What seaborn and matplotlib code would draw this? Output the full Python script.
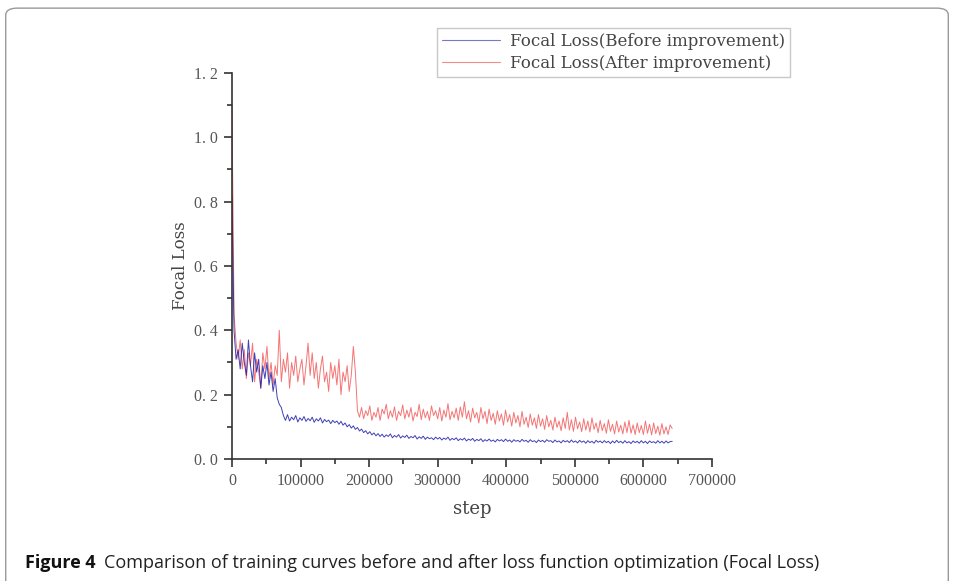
import numpy as np
import pandas as pd
import matplotlib
matplotlib.use("Agg")
import matplotlib.pyplot as plt
from matplotlib.patches import FancyBboxPatch
from matplotlib.lines import Line2D
from matplotlib.ticker import MultipleLocator, FuncFormatter
import seaborn as sns

# Training log: one loss value every LOG_INTERVAL steps
LOG_INTERVAL = 3000

loss_before = [
    0.82, 0.40, 0.31, 0.34, 0.28, 0.36, 0.30, 0.26, 0.37, 0.29,
    0.24, 0.33, 0.27, 0.31, 0.22, 0.29, 0.25, 0.30, 0.23, 0.27,
    0.21, 0.25, 0.19, 0.17, 0.16, 0.135, 0.12, 0.138, 0.118, 0.13,
    0.122, 0.135, 0.115, 0.128, 0.12, 0.132, 0.117, 0.126, 0.119, 0.13,
    0.114, 0.125, 0.118, 0.128, 0.112, 0.123, 0.116, 0.121, 0.11, 0.12,
    0.113, 0.118, 0.108, 0.117, 0.105, 0.112, 0.10, 0.107, 0.096, 0.103,
    0.092, 0.098, 0.087, 0.093, 0.082, 0.088, 0.078, 0.085, 0.075, 0.081,
    0.072, 0.079, 0.07, 0.077, 0.068, 0.075, 0.07, 0.078, 0.066, 0.073,
    0.068, 0.076, 0.065, 0.072, 0.067, 0.074, 0.064, 0.07, 0.066, 0.073,
    0.062, 0.069, 0.064, 0.071, 0.061, 0.068, 0.063, 0.066, 0.06, 0.068,
    0.062, 0.067, 0.059, 0.065, 0.061, 0.068, 0.058, 0.064, 0.06, 0.066,
    0.057, 0.063, 0.059, 0.065, 0.056, 0.062, 0.058, 0.064, 0.055, 0.061,
    0.057, 0.063, 0.054, 0.06, 0.056, 0.062, 0.055, 0.059, 0.053, 0.061,
    0.056, 0.06, 0.054, 0.062, 0.055, 0.059, 0.052, 0.06, 0.055, 0.058,
    0.053, 0.061, 0.055, 0.058, 0.052, 0.06, 0.054, 0.057, 0.051, 0.059,
    0.054, 0.058, 0.052, 0.06, 0.055, 0.057, 0.051, 0.059, 0.053, 0.056,
    0.05, 0.058, 0.053, 0.057, 0.051, 0.059, 0.052, 0.056, 0.05, 0.058,
    0.052, 0.056, 0.049, 0.057, 0.051, 0.055, 0.049, 0.058, 0.052, 0.056,
    0.05, 0.057, 0.051, 0.055, 0.048, 0.056, 0.05, 0.058, 0.051, 0.055,
    0.049, 0.057, 0.05, 0.054, 0.048, 0.056, 0.051, 0.055, 0.049, 0.057,
    0.05, 0.055, 0.048, 0.056, 0.051, 0.054, 0.049, 0.057, 0.05, 0.055,
    0.049, 0.056, 0.05, 0.054, 0.055,
]

loss_after = [
    1.10, 0.45, 0.36, 0.31, 0.37, 0.28, 0.34, 0.25, 0.33, 0.29,
    0.36, 0.24, 0.31, 0.27, 0.22, 0.33, 0.28, 0.35, 0.25, 0.30,
    0.23, 0.29, 0.26, 0.40, 0.24, 0.31, 0.27, 0.33, 0.22, 0.30,
    0.26, 0.32, 0.24, 0.28, 0.31, 0.23, 0.29, 0.36, 0.26, 0.33,
    0.25, 0.30, 0.22, 0.28, 0.32, 0.24, 0.27, 0.21, 0.30, 0.25,
    0.29, 0.23, 0.31, 0.20, 0.27, 0.24, 0.29, 0.21, 0.26, 0.35,
    0.27, 0.15, 0.13, 0.16, 0.125, 0.15, 0.135, 0.165, 0.12, 0.145,
    0.13, 0.16, 0.12, 0.155, 0.14, 0.17, 0.125, 0.15, 0.13, 0.162,
    0.12, 0.148, 0.135, 0.168, 0.125, 0.152, 0.13, 0.16, 0.118, 0.145,
    0.132, 0.17, 0.122, 0.155, 0.128, 0.148, 0.12, 0.165, 0.135, 0.15,
    0.125, 0.16, 0.118, 0.152, 0.13, 0.172, 0.122, 0.148, 0.128, 0.158,
    0.12, 0.162, 0.13, 0.178, 0.125, 0.15, 0.115, 0.158, 0.128, 0.145,
    0.112, 0.16, 0.125, 0.148, 0.11, 0.155, 0.12, 0.142, 0.108, 0.15,
    0.118, 0.14, 0.105, 0.152, 0.115, 0.138, 0.102, 0.145, 0.112, 0.135,
    0.10, 0.148, 0.108, 0.13, 0.098, 0.14, 0.105, 0.128, 0.095, 0.138,
    0.102, 0.125, 0.092, 0.135, 0.10, 0.12, 0.09, 0.13, 0.098, 0.118,
    0.088, 0.128, 0.095, 0.145, 0.09, 0.122, 0.086, 0.13, 0.094, 0.115,
    0.085, 0.125, 0.09, 0.118, 0.084, 0.128, 0.092, 0.112, 0.082, 0.12,
    0.088, 0.11, 0.08, 0.122, 0.086, 0.108, 0.078, 0.118, 0.084, 0.105,
    0.078, 0.115, 0.082, 0.12, 0.08, 0.106, 0.076, 0.112, 0.082, 0.104,
    0.076, 0.118, 0.08, 0.108, 0.075, 0.112, 0.079, 0.102, 0.074, 0.11,
    0.078, 0.10, 0.076, 0.106, 0.095,
]

series_labels = ["Focal Loss(Before improvement)", "Focal Loss(After improvement)"]
series_colors = ["#1f1fa8", "#f03a3a"]

y_ticks = [0.0, 0.2, 0.4, 0.6, 0.8, 1.0, 1.2]
x_ticks = [0, 100000, 200000, 300000, 400000, 500000, 600000, 700000]

caption_bold = "Figure 4"
caption_text = "Comparison of training curves before and after loss function optimization (Focal Loss)"

steps = np.arange(len(loss_before)) * LOG_INTERVAL
df = pd.concat([
    pd.DataFrame({"step": steps, "loss": loss_before, "run": series_labels[0]}),
    pd.DataFrame({"step": steps, "loss": loss_after, "run": series_labels[1]}),
])

sns.set_theme(style="ticks")
plt.rcParams["font.family"] = ["DejaVu Serif"]

fig = plt.figure(figsize=(9.55, 5.81), dpi=100)
ax = fig.add_axes([0.2429, 0.2100, 0.5026, 0.6644])

palette = dict(zip(series_labels, series_colors))
# after-improvement curve underneath, before-improvement on top
sns.lineplot(data=df[df.run == series_labels[1]], x="step", y="loss", color=palette[series_labels[1]],
             linewidth=0.7, alpha=0.7, estimator=None, ax=ax, legend=False)
sns.lineplot(data=df[df.run == series_labels[0]], x="step", y="loss", color=palette[series_labels[0]],
             linewidth=0.7, alpha=0.85, estimator=None, ax=ax, legend=False)

ax.set_xlim(x_ticks[0], x_ticks[-1])
ax.set_ylim(y_ticks[0], y_ticks[-1])
ax.set_xticks(x_ticks)
ax.set_yticks(y_ticks)
ax.xaxis.set_minor_locator(MultipleLocator(50000))
ax.yaxis.set_minor_locator(MultipleLocator(0.1))
ax.yaxis.set_major_formatter(FuncFormatter(lambda v, p: f"{v:.1f}".replace(".", ". ")))
ax.xaxis.set_major_formatter(FuncFormatter(lambda v, p: f"{int(round(v))}"))
ax.tick_params(axis="both", which="major", direction="out", length=6, width=1.2,
               labelsize=11.5, colors="#333333", labelcolor="#555555", pad=4)
ax.tick_params(axis="both", which="minor", direction="out", length=3.5, width=1.2, colors="#333333")
for lbl in ax.get_xticklabels() + ax.get_yticklabels():
    lbl.set_family(["Liberation Serif", "DejaVu Serif"])
ax.set_xlabel("step", fontsize=13, color="#444444")
ax.set_ylabel("Focal Loss", fontsize=12, color="#444444")
ax.yaxis.set_label_coords(-0.09, 0.5)
ax.xaxis.set_label_coords(0.5, -0.105)
sns.despine(ax=ax)
for s in ("left", "bottom"):
    ax.spines[s].set_linewidth(1.2)
    ax.spines[s].set_color("#333333")

handles = [Line2D([], [], color=c, linewidth=0.8, alpha=0.6) for c in series_colors]
leg = fig.legend(handles, series_labels, loc="upper left", bbox_to_anchor=(0.4576, 0.9518),
                 frameon=True, fancybox=False, edgecolor="#bbbbbb", fontsize=12,
                 handlelength=3.5, handletextpad=0.6, labelspacing=0.3, borderpad=0.3,
                 borderaxespad=0)
for t in leg.get_texts():
    t.set_color("#444444")
leg.get_frame().set_linewidth(1.0)

# panel border around figure and caption
border = FancyBboxPatch((0.006, -0.05), 0.987, 1.036, boxstyle="round,pad=0,rounding_size=0.012",
                        transform=fig.transFigure, facecolor="none", edgecolor="#999999",
                        linewidth=1.0, clip_on=False)
fig.patches.append(border)

t1 = fig.text(0.026, 0.022, caption_bold, fontsize=13.0, fontweight="bold",
              family=["Open Sans", "DejaVu Sans"], color="#111111", va="baseline")
fig.canvas.draw()
bb = t1.get_window_extent()
x2 = (bb.x1 + 9) / fig.bbox.width
fig.text(x2, 0.022, caption_text, fontsize=13.0, family=["Open Sans", "DejaVu Sans"],
         color="#222222", va="baseline")

fig.savefig("out.png", dpi=100)
